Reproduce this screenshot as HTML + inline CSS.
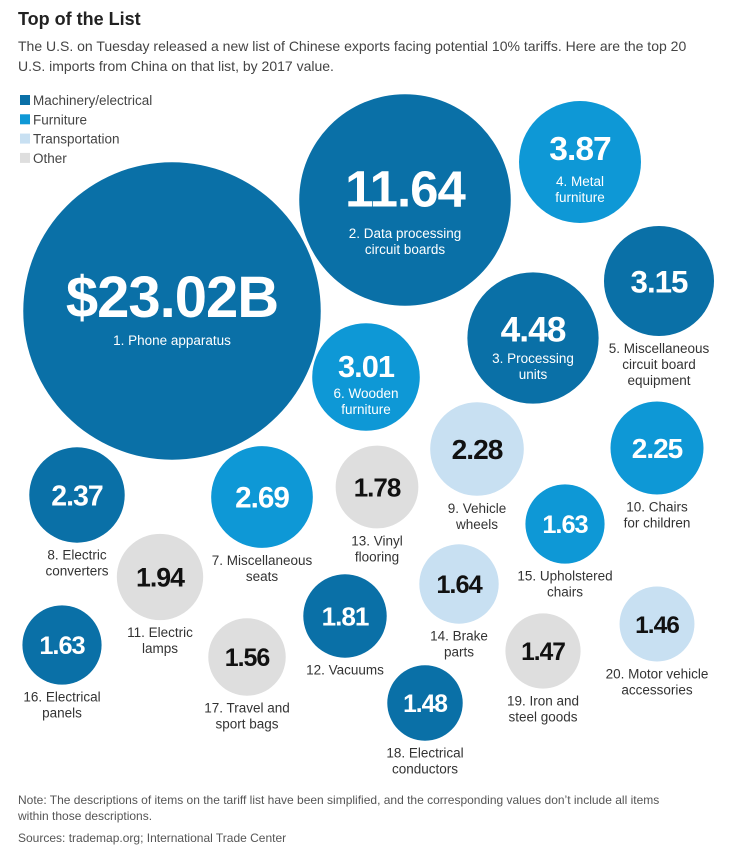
<!DOCTYPE html>
<html><head><meta charset="utf-8"><style>
body{margin:0;background:#fff;font-family:"Liberation Sans",sans-serif;}
#wrap{position:relative;width:742px;height:857px;overflow:hidden;}
.t{position:absolute;left:18px;color:#333;}
</style></head><body>
<div id="wrap">
<div class="t" style="top:9px;font-size:18px;font-weight:bold;color:#222;">Top of the List</div>
<div class="t" style="top:36px;font-size:14px;line-height:20px;width:690px;color:#444;">The U.S. on Tuesday released a new list of Chinese exports facing potential 10% tariffs. Here are the top 20 U.S. imports from China on that list, by 2017 value.</div>
<svg id="svg" width="742" height="857" style="position:absolute;left:0;top:0"></svg>
<div class="t" style="top:792px;font-size:12px;line-height:16px;width:650px;color:#555;">Note: The descriptions of items on the tariff list have been simplified, and the corresponding values don’t include all items within those descriptions.</div>
<div class="t" style="top:831px;font-size:12px;color:#555;">Sources: trademap.org; International Trade Center</div>
</div>
<script>
const values=[23.02,11.64,4.48,3.87,3.15,3.01,2.69,2.37,2.28,2.25,1.94,1.81,1.78,1.64,1.63,1.63,1.56,1.48,1.47,1.46];
const valueLabels=["$23.02B","11.64","4.48","3.87","3.15","3.01","2.69","2.37","2.28","2.25","1.94","1.81","1.78","1.64","1.63","1.63","1.56","1.48","1.47","1.46"];
const categories=["mach","mach","mach","furn","mach","furn","furn","mach","trans","furn","other","mach","other","trans","furn","mach","other","mach","other","trans"];
const names=[["1. Phone apparatus"],["2. Data processing","circuit boards"],["3. Processing","units"],["4. Metal","furniture"],["5. Miscellaneous","circuit board","equipment"],["6. Wooden","furniture"],["7. Miscellaneous","seats"],["8. Electric","converters"],["9. Vehicle","wheels"],["10. Chairs","for children"],["11. Electric","lamps"],["12. Vacuums"],["13. Vinyl","flooring"],["14. Brake","parts"],["15. Upholstered","chairs"],["16. Electrical","panels"],["17. Travel and","sport bags"],["18. Electrical","conductors"],["19. Iron and","steel goods"],["20. Motor vehicle","accessories"]];
const legendNames=["Machinery/electrical","Furniture","Transportation","Other"];
const legendKeys=["mach","furn","trans","other"];
// layout (pixel positions; not data)
const cx=[172,405,533,580,659,366,262,77,477,657,160,345,377,459,565,62,247,425,543,657];
const cy=[311,200,338,162,281,377,497,495,449,448,577,616,487,584,524,645,657,703,651,624];
const inside=[1,1,1,1,0,1,0,0,0,0,0,0,0,0,0,0,0,0,0,0];
const valOff=[-15,-12,-9,-14,0,-11];
const labOff=[34,38,25,24,0,21];
const col={mach:"#0a70a7",furn:"#0e98d6",trans:"#c8e0f2",other:"#dedede"};
const txt={mach:"#fff",furn:"#fff",trans:"#111",other:"#111"};
const rScale=v=>31*Math.sqrt(v);
const fScale=v=>Math.min(60,Math.max(24,10+12*Math.sqrt(v)));
const NS="http://www.w3.org/2000/svg";
const svg=document.getElementById('svg');
function mk(t,a){const e=document.createElementNS(NS,t);for(const k in a)e.setAttribute(k,a[k]);svg.appendChild(e);return e;}
legendNames.forEach((n,i)=>{
  const g=mk('rect',{x:20,y:95+i*19.3,width:10,height:10,fill:col[legendKeys[i]]});
  
  
  const t=mk('text',{x:33,y:105+i*19.3,'font-size':13.5,fill:'#444','font-family':'Liberation Sans, sans-serif'});
  t.textContent=n;
  
  
});
values.forEach((v,i)=>{
  const r=rScale(v),c=categories[i];
  const circ=mk('circle',{cx:cx[i],cy:cy[i],r:r,fill:col[c]});
  
  
  const fs=i==0?58:fScale(v);
  let vy=cy[i]+fs*0.36;
  if(inside[i]) vy=cy[i]+valOff[i]+fs*0.36;
  const vt=mk('text',{x:cx[i],y:vy,'text-anchor':'middle','font-size':fs,'font-weight':'bold',fill:txt[c],'font-family':'Liberation Sans, sans-serif','letter-spacing':'-1'});
  vt.textContent=valueLabels[i];
  
  
  names[i].forEach((ln,j)=>{
    let y;
    if(inside[i]) y=cy[i]+labOff[i]+j*16;
    else y=cy[i]+r+17+j*16;
    const t=mk('text',{x:cx[i],y:y,'text-anchor':'middle','font-size':13.5,fill:inside[i]?'#fff':'#333','font-family':'Liberation Sans, sans-serif'});
    t.textContent=ln;
    
    
  });
});
</script>
</body></html>
